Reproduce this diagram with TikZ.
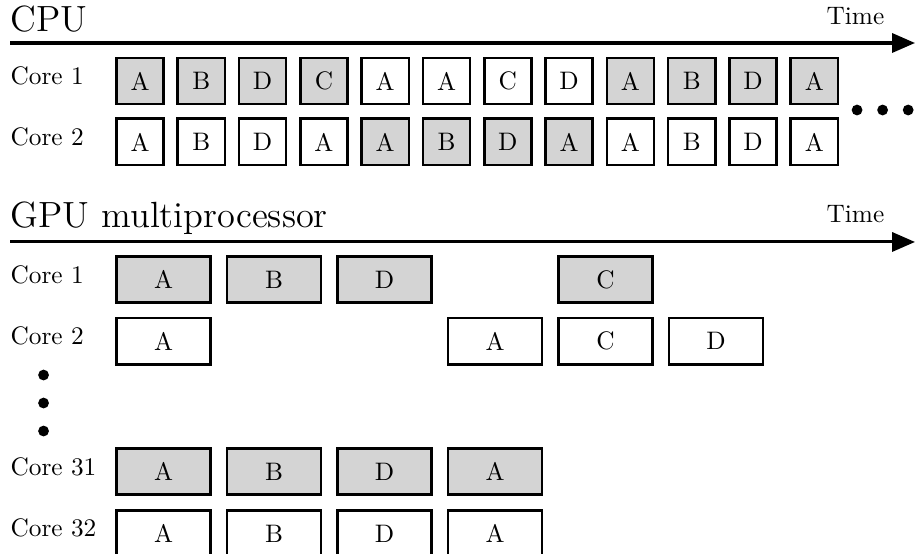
\documentclass[tikz,border=0pt]{standalone}
\usepackage{xcolor}
\usepackage{tikz}
\usetikzlibrary{arrows.meta}
\colorlet{busygray}{black!17}
\tikzset{
  slotbox/.style={draw,line width=1pt,minimum width=0.655cm,minimum height=0.645cm,inner sep=0pt},
  widebox/.style={slotbox,minimum width=1.305cm},
  corelabel/.style={anchor=west,inner sep=0pt},
  titlelabel/.style={anchor=base west,inner sep=0pt,font=\Large},
  timelabel/.style={anchor=base east,inner sep=0pt},
  timearrow/.style={-{Triangle[length=9pt,width=7.5pt]},line width=1.2pt},
  dotmark/.style={circle,fill=black,inner sep=0pt,minimum size=0.15cm}
}
\begin{document}
\begin{tikzpicture}
  \useasboundingbox (0,0) rectangle (12.71,-7.695);
  % CPU
  \node[titlelabel] (cputitle) at (0.14,-0.444) {CPU};
  \node[timelabel] (cputime) at (12.29,-0.347) {Time};
  \coordinate (cpuaxis-start) at (0.14,-0.597);
  \coordinate (cpuaxis-end) at (12.71,-0.597);
  \draw[timearrow] (cpuaxis-start) -- (cpuaxis-end);
  \node[corelabel] (cpucore1) at (0.14,-1.055) {Core 1};
  \node[corelabel] (cpucore2) at (0.14,-1.905) {Core 2};
  \foreach \lbl/\fc [count=\i from 0] in {A/busygray,B/busygray,D/busygray,C/busygray,A/white,A/white,C/white,D/white,A/busygray,B/busygray,D/busygray,A/busygray}
    \node[slotbox,fill=\fc] (c1-\i) at ({1.945+0.8515*\i},-1.125) {\lbl};
  \foreach \lbl/\fc [count=\i from 0] in {A/white,B/white,D/white,A/white,A/busygray,B/busygray,D/busygray,A/busygray,A/white,B/white,D/white,A/white}
    \node[slotbox,fill=\fc] (c2-\i) at ({1.945+0.8515*\i},-1.972) {\lbl};
  \foreach \x [count=\j] in {11.905,12.26,12.615}
    \node[dotmark] (cpudot\j) at (\x,-1.528) {};
  % GPU multiprocessor
  \node[titlelabel] (gputitle) at (0.14,-3.153) {GPU multiprocessor};
  \node[timelabel] (gputime) at (12.29,-3.097) {Time};
  \coordinate (gpuaxis-start) at (0.14,-3.361);
  \coordinate (gpuaxis-end) at (12.71,-3.361);
  \draw[timearrow] (gpuaxis-start) -- (gpuaxis-end);
  \node[corelabel] (gpucore1) at (0.14,-3.815) {Core 1};
  \node[corelabel] (gpucore2) at (0.14,-4.667) {Core 2};
  \node[corelabel] (gpucore31) at (0.14,-6.479) {Core 31};
  \node[corelabel] (gpucore32) at (0.14,-7.33) {Core 32};
  \foreach \k/\lbl in {0/A,1/B,2/D,4/C}
    \node[widebox,fill=busygray] (g1-\k) at ({2.271+1.535*\k},-3.882) {\lbl};
  \foreach \k/\lbl in {0/A,3/A,4/C,5/D}
    \node[widebox,fill=white] (g2-\k) at ({2.271+1.535*\k},-4.737) {\lbl};
  \foreach \k/\lbl in {0/A,1/B,2/D,3/A}
    \node[widebox,fill=busygray] (g31-\k) at ({2.271+1.535*\k},-6.549) {\lbl};
  \foreach \k/\lbl in {0/A,1/B,2/D,3/A}
    \node[widebox,fill=white] (g32-\k) at ({2.271+1.535*\k},-7.41) {\lbl};
  \foreach \y [count=\j] in {-5.209,-5.598,-5.987}
    \node[dotmark] (gpudot\j) at (0.605,\y) {};
\end{tikzpicture}
\end{document}
